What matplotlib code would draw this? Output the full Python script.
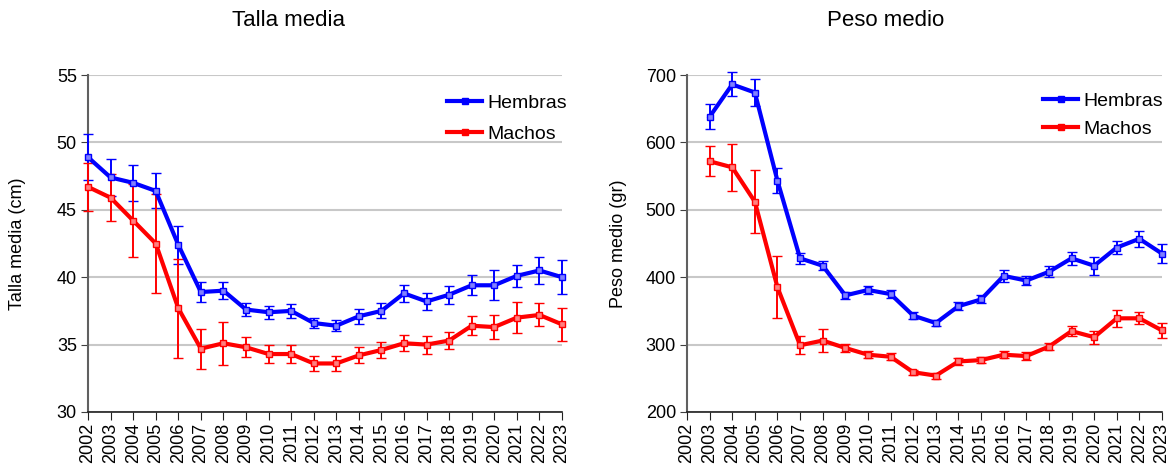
import numpy as np
import matplotlib
matplotlib.use('Agg')
import matplotlib.pyplot as plt
from matplotlib.lines import Line2D

plt.rcParams['font.family'] = ['Liberation Sans', 'DejaVu Sans']

years = list(range(2002, 2024))
years_peso = list(range(2003, 2024))

# Talla media (cm)
talla_hembras = [48.9, 47.4, 47.0, 46.4, 42.4, 38.9, 39.0, 37.6, 37.4, 37.5, 36.6,
                 36.4, 37.1, 37.5, 38.8, 38.2, 38.7, 39.4, 39.4, 40.1, 40.5, 40.0]
talla_hembras_err = [1.7, 1.4, 1.35, 1.3, 1.4, 0.75, 0.65, 0.45, 0.5, 0.5, 0.4,
                     0.4, 0.55, 0.55, 0.65, 0.65, 0.67, 0.75, 1.1, 0.8, 1.0, 1.27]
talla_machos = [46.7, 45.9, 44.2, 42.5, 37.7, 34.7, 35.1, 34.8, 34.3, 34.3, 33.6,
                33.6, 34.2, 34.6, 35.1, 35.0, 35.3, 36.4, 36.3, 37.0, 37.2, 36.5]
talla_machos_err = [1.8, 1.75, 2.7, 3.65, 3.67, 1.48, 1.58, 0.73, 0.7, 0.65, 0.55,
                    0.58, 0.6, 0.58, 0.6, 0.67, 0.65, 0.7, 0.87, 1.17, 0.85, 1.2]

# Peso medio (gr)
peso_hembras = [638, 686, 674, 543, 428, 417, 373, 381, 375, 343, 332,
                357, 367, 402, 395, 408, 428, 417, 444, 457, 435]
peso_hembras_err = [18.5, 17.8, 20.5, 18.5, 8.6, 6.7, 5, 6, 6, 5, 4,
                    6, 6, 8.6, 7, 8, 9.5, 13, 10, 12, 14]
peso_machos = [572, 563, 512, 385, 299, 306, 295, 285, 282, 259, 254,
               275, 277, 285, 283, 297, 320, 311, 339, 339, 321]
peso_machos_err = [22, 35, 47, 46, 13.6, 17, 6.5, 5.5, 5, 4, 4.5,
                   5.7, 5, 5, 6, 5, 7, 9.4, 12.6, 9, 10.7]

BLUE = '#0000ff'
RED = '#ff0000'

W, H = 1173, 466
fig = plt.figure(figsize=(W / 100, H / 100), dpi=100)


def px_box(x0, x1, top, bottom):
    return [x0 / W, 1 - bottom / H, (x1 - x0) / W, (bottom - top) / H]


def draw_panel(ax, x, series, ylim, yticks, ylabel):
    handles = []
    for vals, errs, color, label in series:
        ax.errorbar(x, vals, yerr=errs, color=color, lw=3, ecolor=color,
                    elinewidth=1.4, capsize=3.5, capthick=1.4,
                    marker='s', ms=4, mfc='#8080ff' if color == BLUE else '#ff8080',
                    mec=color, mew=1, clip_on=False, zorder=3)
        handles.append(Line2D([], [], color=color, lw=3, marker='s', ms=4,
                              mfc=color, mec=color, label=label))
    ax.set_xlim(2002, 2023)
    ax.set_ylim(*ylim)
    ax.set_yticks(yticks)
    ax.set_xticks(years)
    ax.set_xticklabels([str(y) for y in years], rotation=90, fontsize=13)
    ax.tick_params(axis='y', labelsize=13, length=5, color='#404040', pad=3)
    ax.tick_params(axis='x', length=6, color='#202020', pad=2)
    ax.grid(axis='y', color='#c8c8c8', lw=1.5)
    ax.set_axisbelow(True)
    for s in ['top', 'right']:
        ax.spines[s].set_visible(False)
    ax.spines['left'].set_color('#606060')
    ax.spines['left'].set_linewidth(1.5)
    ax.spines['bottom'].set_color('#202020')
    ax.spines['bottom'].set_linewidth(1.2)
    ax.set_ylabel(ylabel, fontsize=13)
    return handles


ax1 = fig.add_axes(px_box(88, 562, 75, 412))
h1 = draw_panel(ax1, years,
                [(talla_hembras, talla_hembras_err, BLUE, 'Hembras'),
                 (talla_machos, talla_machos_err, RED, 'Machos')],
                (30, 55), [30, 35, 40, 45, 50, 55], 'Talla media (cm)')
ax1.yaxis.set_label_coords(-62 / 474, 0.5)

ax2 = fig.add_axes(px_box(687, 1162, 75, 412))
h2 = draw_panel(ax2, years_peso,
                [(peso_hembras, peso_hembras_err, BLUE, 'Hembras'),
                 (peso_machos, peso_machos_err, RED, 'Machos')],
                (200, 700), [200, 300, 400, 500, 600, 700], 'Peso medio (gr)')
ax2.yaxis.set_label_coords(-60 / 475, 0.5)

fig.text(289 / W, 1 - 21 / H, 'Talla media', fontsize=16, ha='center', va='center')
fig.text(886 / W, 1 - 21 / H, 'Peso medio', fontsize=16, ha='center', va='center')

for ax, hs, lx, ly, sp in [(ax1, h1, 447, 94, 0.72), (ax2, h2, 1043, 92, 0.55)]:
    ax.legend(handles=hs, loc='upper left', bbox_to_anchor=(lx / W, 1 - ly / H),
              bbox_transform=fig.transFigure, frameon=False, fontsize=14,
              borderpad=0, borderaxespad=0, handlelength=1.8,
              handletextpad=0.3, labelspacing=sp)

fig.savefig('out.png', dpi=100)
